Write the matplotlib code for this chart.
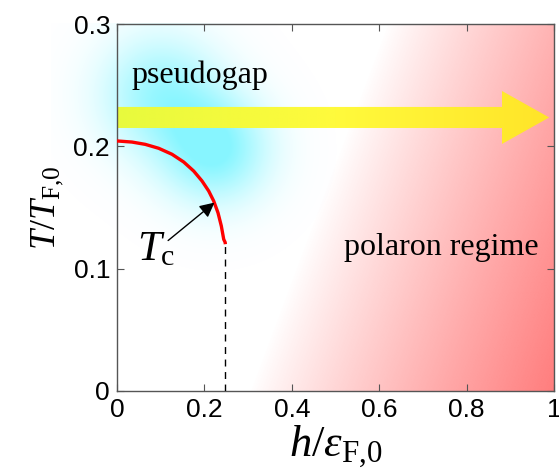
import numpy as np
import matplotlib
matplotlib.use('Agg')
import matplotlib.pyplot as plt
from matplotlib.patches import FancyArrow

# Datos
h_tc = [0.0, 0.0343, 0.0648, 0.0954, 0.1259, 0.1526, 0.1755, 0.1945,
        0.2098, 0.2213, 0.2311, 0.2387, 0.2442, 0.2475, 0.248]
T_tc = [0.2044, 0.2035, 0.2016, 0.1984, 0.1935, 0.1872, 0.1798, 0.1717,
        0.1635, 0.1553, 0.1457, 0.1349, 0.1240, 0.1215, 0.12]
h_fin = 0.248
T_fin = 0.12

xticks = [0, 0.2, 0.4, 0.6, 0.8, 1]
xtick_labels = ['0', '0.2', '0.4', '0.6', '0.8', '1']
yticks = [0, 0.1, 0.2, 0.3]
ytick_labels = ['0', '0.1', '0.2', '0.3']

plt.rcParams['mathtext.fontset'] = 'custom'
plt.rcParams['mathtext.rm'] = 'Liberation Serif'
plt.rcParams['mathtext.it'] = 'Liberation Serif:italic'
plt.rcParams['mathtext.bf'] = 'Liberation Serif:bold'

fig = plt.figure(figsize=(5.59, 4.70), dpi=100)
ax = fig.add_axes([117/559, 79/470, 437/559, 367/470])
ax.set_xlim(0, 1)
ax.set_ylim(0, 0.3)

# escala: 1 unidad en x = 437 px, 0.3 en y = 367 px
sy = 367 / 0.3 / 437

# Zona roja (polaron), degradado diagonal
nx, ny = 400, 300
X, Y = np.meshgrid(np.linspace(0, 1, nx), np.linspace(0, 0.3, ny))
x0_abajo, x0_arriba = 0.304, 0.618
bx = x0_abajo + (x0_arriba - x0_abajo) * Y / 0.3
n = np.array([367.0, 137.0]) / np.hypot(367.0, 137.0)
d = (X - bx) * n[0]
dmax = (1 - x0_abajo) * n[0]
a = np.clip(d / dmax, 0, 1) ** 0.9
rojo = np.zeros((ny, nx, 4))
rojo[..., 0] = 1.0
rojo[..., 1] = 0.40
rojo[..., 2] = 0.40
rojo[..., 3] = a * 0.85
ax.imshow(rojo, extent=(0, 1, 0, 0.3), origin='lower', aspect='auto', zorder=0, interpolation='bilinear')

# Mancha cian (pseudogap)
gx, gy = np.meshgrid(np.linspace(-0.15, 0.6, 300), np.linspace(0.08, 0.3, 200))
def mancha(cx, cy, s, amp):
    return amp * np.exp(-(((gx - cx) ** 2) + ((gy - cy) * sy) ** 2) / (2 * s ** 2))
g = mancha(0.225, 0.197, 0.085, 1.0) + mancha(0.10, 0.242, 0.095, 0.8)
g = np.clip(g, 0, 1)
cian = np.zeros(g.shape + (4,))
cian[..., 0] = 0.45
cian[..., 1] = 0.96
cian[..., 2] = 1.0
cian[..., 3] = g * 0.85
im = ax.imshow(cian, extent=(-0.15, 0.6, 0.08, 0.3), origin='lower', aspect='auto',
               zorder=0.5, interpolation='bilinear')
im.set_clip_on(False)

# Flecha amarilla con degradado
flecha = FancyArrow(0.0, 0.2236, 0.989, 0.0, width=0.0172, head_width=0.0433,
                    head_length=0.108, length_includes_head=True,
                    facecolor='none', edgecolor='none', zorder=1)
ax.add_patch(flecha)
t = np.linspace(0, 1, 256)
c0 = np.array([232, 250, 62]) / 255
c1 = np.array([255, 250, 60]) / 255
c2 = np.array([255, 228, 40]) / 255
grad = np.where(t[:, None] < 0.5, c0 + (c1 - c0) * (t[:, None] / 0.5),
                c1 + (c2 - c1) * ((t[:, None] - 0.5) / 0.5))
amar = ax.imshow(grad[None, :, :], extent=(0, 1, 0.19, 0.25), aspect='auto',
                 zorder=1, interpolation='bilinear')
amar.set_clip_path(flecha)

# Curva Tc
ax.plot(h_tc, T_tc, color='#ff0000', lw=2.4, zorder=3, solid_capstyle='butt',
        solid_joinstyle='round')
ax.plot([h_fin, h_fin], [0, T_fin], color='black', lw=1.0, dashes=(5, 4), zorder=3)

ax.annotate('', xy=(0.223, 0.154), xytext=(0.117, 0.123),
            arrowprops=dict(arrowstyle='-|>', color='black', lw=1.0,
                            mutation_scale=22, shrinkA=0, shrinkB=0), zorder=4)
ax.text(0.046, 0.107, r'$T_{\mathrm{c}}$', fontsize=31, va='baseline', ha='left', zorder=4)

ax.text(0.034, 0.252, 'pseudogap', fontsize=23, family='Liberation Serif', va='baseline')
ax.text(0.965, 0.111, 'polaron regime', fontsize=23, family='Liberation Serif',
        va='baseline', ha='right')

ax.set_xticks(xticks)
ax.set_xticklabels(xtick_labels)
ax.set_yticks(yticks)
ax.set_yticklabels(ytick_labels)
ax.tick_params(direction='in', top=True, right=True, length=5, width=0.8,
               color='#555555', labelsize=19, pad=5)
for lab in ax.get_xticklabels() + ax.get_yticklabels():
    lab.set_family('Liberation Sans')
for s in ax.spines.values():
    s.set_color('#555555')
    s.set_linewidth(1.0)

ax.set_xlabel(r'$h/\varepsilon_{\mathrm{F{,}0}}$', fontsize=32, labelpad=1)
ax.set_ylabel(r'$T/T_{\mathrm{F{,}0}}$', fontsize=26, labelpad=6)

fig.savefig('out.png', dpi=100)
